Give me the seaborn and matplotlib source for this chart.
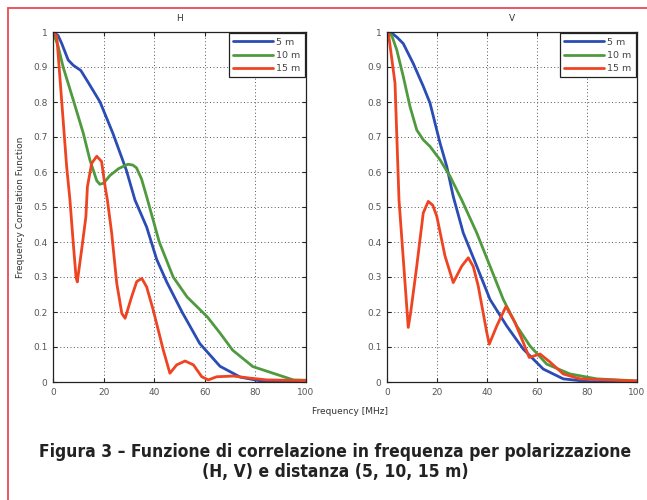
import numpy as np
import pandas as pd
import matplotlib
matplotlib.use("Agg")
import matplotlib.pyplot as plt
import seaborn as sns
from matplotlib.lines import Line2D
from matplotlib import font_manager

# ---------------- data ----------------
series_names = ["5 m", "10 m", "15 m"]
panel_titles = ["H", "V"]
x_ticks = [0, 20, 40, 60, 80, 100]
y_ticks = [0, 0.1, 0.2, 0.3, 0.4, 0.5, 0.6, 0.7, 0.8, 0.9, 1]
y_tick_labels = ["0", "0.1", "0.2", "0.3", "0.4", "0.5", "0.6", "0.7", "0.8", "0.9", "1"]

# H polarisation
h_5m_f = [0, 2, 3.4, 6, 8, 11, 14, 18.6, 23.7, 29, 32.4, 37, 41, 45, 51, 58, 66, 74, 82, 90, 100]
h_5m_r = [1, 0.99, 0.968, 0.92, 0.905, 0.89, 0.855, 0.80, 0.71, 0.605, 0.52, 0.443, 0.35, 0.285,
          0.20, 0.11, 0.045, 0.014, 0.003, 0.001, 0.0]
h_10m_f = [0, 2, 4, 8, 12, 14.6, 17.3, 18.5, 20, 22.5, 26, 29.6, 31.5, 33, 35, 37, 42, 47.5, 53,
           61, 66, 71, 79, 87, 95, 100]
h_10m_r = [1, 0.96, 0.90, 0.806, 0.71, 0.634, 0.575, 0.565, 0.568, 0.59, 0.61, 0.622, 0.62, 0.612,
           0.58, 0.53, 0.40, 0.30, 0.243, 0.186, 0.14, 0.091, 0.044, 0.025, 0.006, 0.005]
h_15m_f = [0, 1.5, 3.4, 5.4, 6.7, 8, 9.1, 9.6, 11.3, 13, 13.6, 15.3, 17.3, 19.2, 20.6, 21.5, 23.2,
           25.2, 27.2, 28.5, 31.1, 33.1, 35.1, 37, 39.6, 43.6, 46.2, 48.9, 52.2, 55.5, 58.8, 61.4,
           64.7, 71.3, 77.9, 84.5, 100]
h_15m_r = [1, 0.987, 0.806, 0.615, 0.52, 0.397, 0.30, 0.286, 0.377, 0.472, 0.558, 0.625, 0.645,
           0.63, 0.558, 0.52, 0.425, 0.282, 0.196, 0.182, 0.244, 0.287, 0.296, 0.272, 0.206, 0.091,
           0.025, 0.049, 0.06, 0.049, 0.015, 0.006, 0.015, 0.017, 0.011, 0.006, 0.004]

# V polarisation
v_5m_f = [0, 1.9, 4, 6.5, 10.5, 14.5, 17.2, 21.2, 23.9, 26.5, 30.5, 35.9, 41.2, 47.9, 54.5, 62.5,
          70.5, 81, 90, 100]
v_5m_r = [1, 0.997, 0.985, 0.967, 0.91, 0.845, 0.797, 0.683, 0.616, 0.53, 0.426, 0.331, 0.236,
          0.16, 0.094, 0.037, 0.009, 0.001, 0.0, 0.0]
v_10m_f = [0, 1.9, 3.9, 6.5, 9.2, 11.9, 14.5, 17.2, 21.2, 25.2, 29.9, 35.9, 41.2, 46.5, 51.9, 57.2,
           63.9, 73.2, 83.9, 100]
v_10m_r = [1, 0.99, 0.949, 0.873, 0.787, 0.72, 0.692, 0.673, 0.635, 0.588, 0.52, 0.426, 0.331,
           0.236, 0.16, 0.103, 0.051, 0.023, 0.009, 0.003]
v_15m_f = [0, 0.5, 3.2, 4.8, 7.2, 8.5, 9.5, 11.9, 14.5, 16.5, 18.3, 19.9, 23.2, 26.5, 29.9, 32.5,
           34.5, 36.5, 39.9, 40.9, 43.9, 47.6, 51.2, 54.5, 56.9, 59, 61.2, 65.2, 70.5, 77.2, 100]
v_15m_r = [1, 1, 0.854, 0.52, 0.284, 0.156, 0.2, 0.331, 0.483, 0.516, 0.505, 0.474, 0.36, 0.284,
           0.331, 0.355, 0.33, 0.274, 0.142, 0.108, 0.16, 0.216, 0.17, 0.113, 0.07, 0.075, 0.08,
           0.057, 0.023, 0.009, 0.003]

caption_line1 = "Figura 3 – Funzione di correlazione in frequenza per polarizzazione"
caption_line2 = "(H, V) e distanza (5, 10, 15 m)"
x_label = "Frequency [MHz]"
y_label = "Frequency Correlation Function"

# ---------------- build long-form tables ----------------
def build(pairs):
    frames = []
    for name, (f, r) in zip(series_names, pairs):
        frames.append(pd.DataFrame({"f": f, "r": r, "dist": name}))
    return pd.concat(frames, ignore_index=True)

df_h = build([(h_5m_f, h_5m_r), (h_10m_f, h_10m_r), (h_15m_f, h_15m_r)])
df_v = build([(v_5m_f, v_5m_r), (v_10m_f, v_10m_r), (v_15m_f, v_15m_r)])

# ---------------- style ----------------
sns.set_style("ticks")
plt.rcParams["font.family"] = ["DejaVu Sans"]
palette = {"5 m": "#2a4cb4", "10 m": "#4f9a3e", "15 m": "#ee4422"}

fig = plt.figure(figsize=(6.47, 5.0), dpi=100)
ax_h = fig.add_axes([53 / 647, 118 / 500, 253 / 647, 350 / 500])
ax_v = fig.add_axes([387 / 647, 118 / 500, 250 / 647, 350 / 500])

for ax, df, title in [(ax_h, df_h, panel_titles[0]), (ax_v, df_v, panel_titles[1])]:
    sns.lineplot(data=df, x="f", y="r", hue="dist", palette=palette, ax=ax,
                 linewidth=2.0, sort=False, estimator=None, legend=True)
    ax.set_xlim(0, 100)
    ax.set_ylim(0, 1)
    ax.set_xticks(x_ticks)
    ax.set_xticklabels([str(t) for t in x_ticks])
    ax.set_yticks(y_ticks)
    ax.set_yticklabels(y_tick_labels)
    ax.tick_params(direction="in", length=3, width=0.8, labelsize=6.5, labelcolor="#555555",
                   top=True, right=True, pad=4)
    ax.grid(True, linestyle=(0, (1, 2.5)), color="#555555", linewidth=0.7)
    for s in ax.spines.values():
        s.set_color("#222222")
        s.set_linewidth(0.9)
    ax.set_xlabel("")
    ax.set_ylabel("")
    ax.set_title(title, fontsize=6.5, color="#333333", pad=8)
    leg = ax.legend(loc="upper right", fontsize=6.8, handlelength=4.2, frameon=True, fancybox=False,
                    borderaxespad=0.15, labelspacing=0.45, handletextpad=0.35, borderpad=0.45)
    leg.get_frame().set_edgecolor("#222222")
    leg.get_frame().set_linewidth(0.9)
    leg.get_frame().set_alpha(1)
    for t in leg.get_texts():
        t.set_color("#444444")

ax_h.set_ylabel(y_label, fontsize=6.5, color="#333333", labelpad=6)
fig.text(350 / 647, 1 - 411 / 500, x_label, ha="center", va="center", fontsize=6.5, color="#333333")

# caption font
names = {f.name for f in font_manager.fontManager.ttflist}
if "Liberation Sans Narrow" in names:
    cap_kw = dict(family="Liberation Sans Narrow", fontweight="bold", fontsize=14)
else:
    cap_kw = dict(family="DejaVu Sans", fontstretch="condensed", fontweight="bold", fontsize=12.5)

fig.text(335 / 647, 1 - 452 / 500, caption_line1, ha="center", va="center", color="#222222", **cap_kw)
fig.text(335 / 647, 1 - 472 / 500, caption_line2, ha="center", va="center", color="#222222", **cap_kw)

# red frame (left and top)
fig.add_artist(Line2D([8 / 647, 8 / 647], [0, 1 - 8 / 500], transform=fig.transFigure,
                      color="#e84a52", linewidth=1.3))
fig.add_artist(Line2D([8 / 647, 1], [1 - 8 / 500, 1 - 8 / 500], transform=fig.transFigure,
                      color="#e84a52", linewidth=1.3))

fig.savefig("out.png", dpi=100, facecolor="white")
